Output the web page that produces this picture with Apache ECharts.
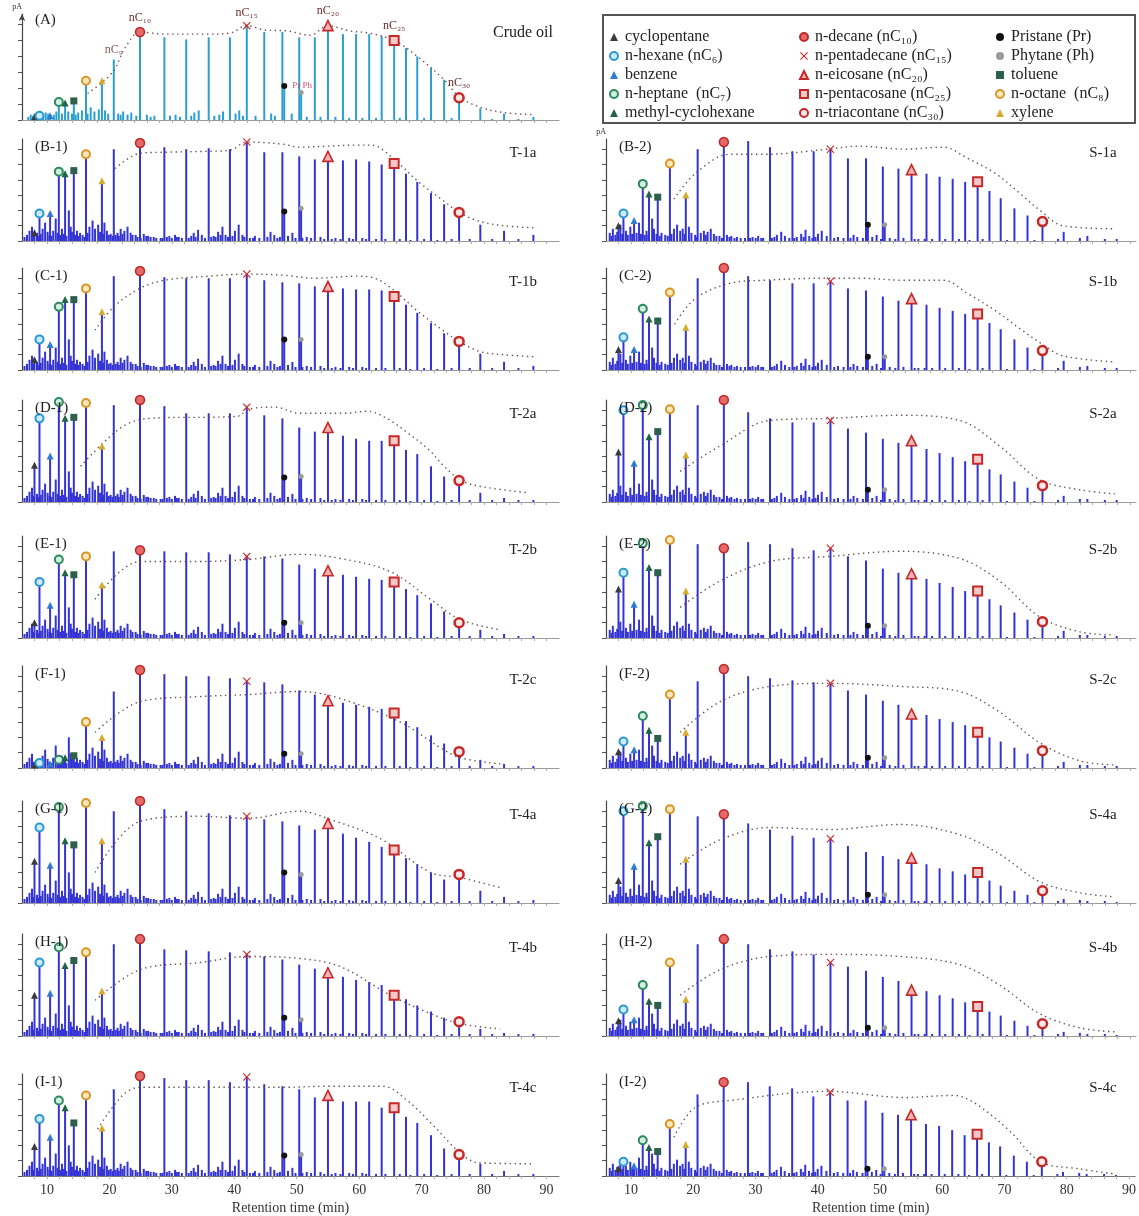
<!DOCTYPE html>
<html>
<head>
<meta charset="utf-8">
<script src="https://cdn.jsdelivr.net/npm/echarts@6/dist/echarts.min.js"></script>
<style>
  html, body { margin: 0; padding: 0; background: #ffffff; }
  #chart { width: 1139px; height: 1216px; }
</style>
</head>
<body>
<div id="chart"></div>
<script>
// ---------- retention times (min) ----------
// n-alkanes nC9 ... nC33
const alkaneTimes = [20.7, 24.9, 28.8, 32.3, 35.9, 39.3, 42.0, 44.8, 47.7, 50.4, 52.9, 55.0, 57.4,
                     59.5, 61.6, 63.6, 65.6, 67.5, 69.3, 71.5, 73.6, 76.0, 79.4, 83.2, 87.9];
// cyclopentane, n-hexane, benzene, n-heptane, methyl-cyclohexane, toluene, n-octane, xylene
const lightTimes = [8.0, 8.8, 10.5, 11.9, 12.9, 14.3, 16.25, 18.8];
// pristane, phytane
const isoprenoidTimes = [48.0, 50.7];

// ---------- peak heights (% of panel full scale) ----------
// n-alkanes nC9 ... nC33
const alkaneA  = [57, 83, 78, 76, 78, 78, 89, 83, 83, 78, 78, 89, 81, 81, 81, 79, 75, 68, 60, 49, 38, 21, 11, 6, 3];
const alkaneB1 = [90, 96, 92, 90, 91, 90, 97, 87, 87, 83, 80, 83, 79, 80, 78, 75, 76, 66, 58, 47, 36, 28, 16, 10, 6];
const alkaneC1 = [92, 97, 91, 90, 90, 90, 94, 88, 86, 85, 82, 82, 80, 79, 79, 78, 72, 64, 56, 46, 36, 28, 16, 8, 4];
const alkaneD1 = [95, 100, 94, 87, 87, 87, 93, 85, 82, 73, 69, 73, 65, 62, 60, 60, 60, 51, 47, 35, 25, 21, 9, 4, 2];
const alkaneE1 = [85, 86, 85, 84, 84, 82, 80, 80, 78, 72, 68, 66, 62, 60, 58, 57, 55, 48, 42, 34, 26, 15, 8, 4, 2];
const alkaneF1 = [75, 96, 92, 90, 90, 88, 85, 84, 82, 76, 72, 66, 64, 62, 60, 58, 54, 46, 40, 32, 24, 16, 8, 4, 2];
const alkaneG1 = [90, 100, 92, 90, 88, 86, 85, 82, 80, 76, 72, 78, 68, 64, 60, 55, 52, 44, 38, 30, 23, 28, 12, 6, 3];
const alkaneH1 = [90, 95, 85, 84, 83, 82, 80, 78, 75, 70, 66, 62, 58, 55, 53, 50, 40, 36, 30, 24, 18, 14, 7, 3, 2];
const alkaneI1 = [85, 98, 96, 94, 94, 92, 97, 90, 88, 85, 77, 79, 73, 73, 73, 67, 67, 58, 52, 40, 27, 21, 12, 5, 2];
const alkaneB2 = [90, 97, 98, 92, 88, 88, 90, 81, 81, 73, 71, 70, 66, 63, 61, 58, 58, 49, 42, 32, 25, 19, 9, 5, 2];
const alkaneC2 = [90, 100, 92, 88, 85, 85, 87, 80, 78, 72, 68, 70, 64, 61, 58, 55, 55, 46, 40, 30, 22, 19, 9, 4, 2];
const alkaneD2 = [95, 100, 88, 82, 78, 78, 80, 72, 68, 62, 58, 60, 52, 48, 44, 40, 42, 32, 27, 20, 14, 16, 6, 3, 2];
const alkaneE2 = [92, 88, 94, 92, 88, 86, 88, 80, 76, 68, 64, 63, 58, 54, 50, 46, 46, 38, 32, 25, 18, 16, 7, 3, 2];
const alkaneF2 = [85, 97, 90, 88, 86, 84, 83, 76, 72, 66, 62, 53, 52, 48, 45, 42, 35, 30, 26, 20, 14, 17, 6, 3, 2];
const alkaneG2 = [85, 87, 78, 72, 66, 64, 63, 56, 50, 46, 43, 44, 38, 34, 31, 28, 30, 22, 17, 12, 8, 12, 4, 2, 1];
const alkaneH2 = [90, 95, 90, 85, 83, 80, 72, 68, 64, 58, 54, 45, 44, 40, 37, 33, 29, 24, 20, 15, 10, 12, 4, 2, 1];
const alkaneI2 = [80, 92, 92, 88, 86, 78, 82, 74, 74, 62, 60, 60, 51, 49, 45, 40, 41, 33, 29, 20, 14, 14, 4, 2, 1];

// light compounds, same order as lightTimes
const lightA  = [3, 4, 4, 17, 16, 18, 37, 37];
const lightB1 = [8, 27, 27, 68, 66, 69, 85, 59];
const lightC1 = [10, 30, 25, 62, 69, 69, 80, 57];
const lightD1 = [36, 82, 45, 98, 82, 83, 97, 55];
const lightE1 = [15, 55, 32, 77, 64, 62, 80, 52];
const lightF1 = [3, 5, 4, 8, 10, 12, 45, 30];
const lightG1 = [41, 74, 37, 94, 61, 57, 98, 61];
const lightH1 = [40, 72, 42, 87, 69, 74, 82, 44];
const lightI1 = [29, 56, 38, 74, 67, 52, 79, 47];
const lightB2 = [15, 27, 20, 56, 46, 43, 76, 45];
const lightC2 = [20, 32, 20, 60, 50, 48, 76, 42];
const lightD2 = [49, 90, 38, 95, 64, 69, 91, 46];
const lightE2 = [48, 64, 33, 93, 69, 64, 96, 46];
const lightF2 = [16, 26, 18, 51, 37, 29, 72, 35];
const lightG2 = [22, 90, 36, 95, 59, 65, 92, 43];
const lightH2 = [15, 26, 16, 50, 34, 30, 72, 36];
const lightI2 = [7, 14, 10, 35, 28, 24, 51, 31];

// pristane, phytane
const isoA  = [32, 26];
const isoB1 = [29, 32];
const isoC1 = [30, 30];
const isoD1 = [24, 25];
const isoE1 = [15, 15];
const isoF1 = [14, 14];
const isoG1 = [30, 28];
const isoH1 = [18, 16];
const isoI1 = [20, 21];
const isoB2 = [16, 16];
const isoC2 = [13, 13];
const isoD2 = [12, 12];
const isoE2 = [12, 12];
const isoF2 = [10, 10];
const isoG2 = [8, 8];
const isoH2 = [8, 8];
const isoI2 = [7, 7];

// crude-oil n-alkane envelope overlaid on each trace: [time, height]
const envA  = [[16.5, 25], [20.5, 45], [22.5, 68], [24.9, 83], [28.8, 81], [35.9, 81], [39.3, 82], [42.0, 89], [44.8, 85], [48.5, 84], [52.2, 80], [55.0, 89], [58.5, 84], [61.6, 82], [65.6, 75], [69.3, 60], [73.6, 38], [76.0, 22], [79.4, 12], [83.2, 7], [87.9, 5]];
const envB1 = [[20.9, 71], [24.9, 86], [28.8, 87], [35.9, 88], [39.3, 89], [42.0, 97], [47.7, 95], [50.4, 92], [55.0, 93], [59.5, 94], [62.0, 94], [65.6, 80], [69.5, 58], [73.6, 39], [76.0, 28], [79.4, 19], [83.2, 15], [87.9, 13]];
const envC1 = [[17.7, 39], [20.7, 62], [24.9, 80], [28.8, 88], [35.9, 92], [42.0, 94], [47.7, 93], [52.9, 90], [59.5, 92], [62.5, 90], [65.6, 78], [69.3, 58], [73.6, 38], [76.0, 28], [79.4, 18], [83.2, 15], [87.9, 13]];
const envD1 = [[15.4, 35], [19.0, 58], [22.7, 76], [26.4, 82], [40.5, 84], [42.3, 91], [46.6, 93], [50.3, 87], [57.7, 87], [61.3, 89], [64.4, 82], [67.5, 69], [71.2, 51], [73.6, 35], [76.4, 21], [79.7, 15], [87.1, 9]];
const envE1 = [[17.7, 38], [24.9, 75], [34.0, 75], [42.2, 77], [50.5, 82], [57.0, 78], [65.0, 65], [71.4, 38], [76.2, 18], [82.6, 8]];
const envF1 = [[17.7, 35], [24.9, 65], [34.5, 70], [42.2, 72], [50.5, 75], [57.0, 68], [66.6, 45], [73.0, 20], [76.2, 10], [82.6, 4]];
const envG1 = [[17.7, 30], [24.9, 80], [34.5, 85], [42.2, 83], [50.5, 90], [55.3, 82], [63.4, 63], [71.4, 30], [76.2, 25], [82.6, 15]];
const envH1 = [[17.7, 35], [24.9, 65], [34.5, 72], [42.2, 78], [50.5, 76], [57.0, 68], [65.0, 40], [71.4, 22], [76.2, 12], [82.6, 7]];
const envI1 = [[18.1, 46], [22.1, 79], [24.9, 87], [35.9, 87], [47.7, 87], [55.2, 88], [63.8, 88], [67.5, 75], [71.8, 50], [76.1, 23], [79.1, 13], [87.7, 12]];
const envB2 = [[16.9, 41], [20.3, 66], [25.9, 85], [31.5, 85], [41.6, 90], [46.6, 93], [53.9, 90], [60.1, 92], [64.0, 81], [68.5, 66], [72.5, 46], [75.8, 29], [79.2, 15], [87.6, 12]];
const envC2 = [[17.0, 45], [20.3, 70], [25.9, 85], [31.5, 88], [41.6, 90], [46.6, 90], [53.9, 88], [60.1, 88], [64.0, 75], [68.5, 58], [72.5, 40], [75.8, 26], [79.2, 14], [87.6, 8]];
const envD2 = [[17.9, 30], [24.3, 55], [32.3, 80], [41.9, 82], [53.1, 85], [62.7, 80], [69.1, 55], [75.5, 22], [82.0, 12], [87.6, 8]];
const envE2 = [[17.9, 30], [24.3, 56], [32.3, 75], [41.9, 80], [53.1, 85], [62.7, 78], [69.1, 56], [75.5, 21], [82.0, 6], [87.6, 3]];
const envF2 = [[17.9, 35], [24.3, 65], [32.3, 80], [41.9, 83], [53.1, 80], [62.7, 75], [69.1, 55], [75.5, 25], [82.0, 7], [87.6, 3]];
const envG2 = [[17.9, 38], [24.3, 62], [32.3, 74], [41.9, 72], [53.1, 77], [62.7, 67], [69.1, 48], [75.5, 21], [82.0, 10], [87.6, 6]];
const envH2 = [[17.9, 40], [24.3, 65], [32.3, 78], [41.9, 80], [53.1, 78], [62.7, 70], [69.1, 50], [75.5, 22], [82.0, 8], [87.6, 4]];
const envI2 = [[16.9, 38], [20.3, 67], [25.9, 74], [41.6, 83], [53.9, 77], [61.8, 79], [65.1, 72], [70.7, 45], [75.8, 14], [82.0, 7], [87.6, 2]];

// minor, unlabelled peaks along the baseline: [time, height]
const minorA = [[7.0, 3], [7.4, 5], [7.8, 4], [8.2, 6], [8.6, 5], [9.4, 4], [9.8, 7], [10.2, 6], [11.1, 5], [11.5, 8], [12.4, 6], [13.4, 8], [14.0, 6], [14.6, 5], [15.0, 7], [15.6, 9], [16.5, 6], [17.0, 12], [17.6, 8], [18.3, 10], [19.3, 9], [19.8, 6], [21.4, 6], [21.8, 5], [22.2, 8], [22.9, 5], [23.5, 7], [24.3, 4], [26.0, 5], [26.6, 3], [27.2, 4], [29.7, 4], [30.6, 5], [31.3, 3], [33.1, 4], [33.6, 7], [34.3, 9], [36.8, 4], [37.6, 5], [38.2, 8], [40.2, 6], [40.8, 9], [41.4, 4], [43.4, 4], [45.9, 6], [46.5, 4], [49.2, 6], [51.6, 3], [53.8, 3], [56.2, 3], [58.4, 2], [60.5, 2], [62.7, 2], [66.5, 2], [70.4, 2], [74.8, 2], [81.3, 1], [85.5, 1]];
const minorT = [[6.4, 4], [6.8, 6], [7.2, 10], [7.6, 14], [7.9, 6], [8.4, 8], [8.7, 5], [9.0, 7], [9.3, 12], [9.7, 18], [10.1, 9], [10.4, 6], [10.7, 5], [11.0, 10], [11.4, 22], [11.7, 8], [12.1, 6], [12.4, 12], [12.7, 7], [13.1, 5], [13.5, 30], [13.8, 14], [14.0, 9], [14.5, 6], [14.8, 10], [15.0, 5], [15.3, 8], [15.7, 6], [16.0, 4], [16.5, 8], [16.8, 14], [17.3, 20], [17.7, 12], [18.2, 16], [18.5, 9], [19.0, 7], [19.2, 18], [19.6, 10], [19.9, 6], [20.2, 7], [20.5, 5], [21.0, 6], [21.3, 8], [21.5, 5], [21.8, 12], [22.1, 7], [22.4, 10], [22.9, 14], [23.4, 8], [23.7, 6], [24.2, 6], [24.5, 4], [25.0, 3], [25.5, 7], [25.9, 5], [26.2, 5], [26.6, 4], [27.1, 4], [27.5, 3], [28.2, 3], [28.5, 3], [29.2, 4], [29.6, 5], [30.0, 3], [30.5, 6], [30.8, 4], [31.1, 4], [31.6, 3], [32.7, 3], [33.1, 5], [33.5, 8], [33.8, 4], [34.2, 11], [34.8, 6], [35.3, 3], [36.3, 4], [36.7, 5], [37.0, 4], [37.4, 9], [37.8, 6], [38.1, 14], [38.6, 6], [39.0, 4], [39.7, 5], [40.1, 10], [40.7, 16], [41.3, 6], [41.6, 4], [42.5, 3], [43.0, 3], [43.3, 5], [44.0, 3], [45.3, 4], [45.8, 9], [46.4, 6], [46.9, 3], [47.3, 4], [48.6, 5], [49.3, 8], [49.8, 3], [50.9, 3], [51.6, 4], [52.3, 3], [53.8, 4], [54.4, 2], [55.6, 2], [56.2, 3], [57.0, 2], [58.4, 3], [59.0, 2], [60.5, 3], [61.1, 2], [62.7, 2], [64.2, 2], [66.5, 2], [68.2, 1], [70.4, 2], [72.5, 1], [74.8, 2], [77.7, 2], [81.3, 2], [85.5, 2]];
const minorS = [[6.6, 8], [6.9, 5], [7.1, 12], [7.5, 6], [7.8, 9], [8.3, 16], [8.6, 7], [9.2, 10], [9.5, 6], [9.9, 14], [10.2, 7], [10.9, 8], [11.3, 18], [11.6, 7], [12.2, 6], [12.5, 10], [12.8, 6], [13.4, 22], [13.7, 12], [14.1, 7], [14.6, 5], [14.9, 8], [15.5, 6], [15.9, 5], [16.5, 7], [16.9, 12], [17.4, 16], [17.9, 10], [18.3, 12], [18.6, 7], [19.3, 14], [19.7, 8], [20.3, 6], [20.6, 4], [21.2, 8], [21.7, 10], [22.0, 6], [22.3, 9], [22.8, 12], [23.3, 7], [23.7, 5], [24.2, 5], [24.6, 3], [25.4, 6], [25.8, 4], [26.1, 5], [26.6, 3], [27.0, 4], [27.6, 3], [28.3, 3], [29.1, 3], [29.5, 4], [30.0, 3], [30.4, 5], [30.9, 3], [31.2, 3], [32.6, 3], [33.0, 4], [33.4, 6], [34.1, 9], [34.7, 5], [35.4, 3], [36.2, 3], [36.6, 4], [37.3, 7], [37.7, 4], [38.0, 11], [38.6, 5], [39.1, 3], [39.6, 4], [40.0, 7], [40.6, 10], [41.4, 5], [42.6, 3], [43.2, 4], [44.1, 3], [45.2, 3], [45.7, 6], [46.3, 4], [47.2, 3], [48.7, 4], [49.4, 6], [50.1, 2], [51.5, 3], [52.4, 2], [53.7, 3], [55.5, 2], [56.1, 2], [57.1, 2], [58.3, 2], [60.4, 2], [62.6, 2], [64.3, 1], [66.4, 2], [70.3, 1], [74.7, 1], [78.5, 2], [82.0, 3], [86.0, 2]];

const xTickLabels = [10, 20, 30, 40, 50, 60, 70, 80, 90];

// ---------- panels ----------
const panels = [
  { id: '(A)',   sample: 'Crude oil', col: 0, row: -1, alk: alkaneA,  light: lightA,  iso: isoA,  env: envA,  minor: minorA },
  { id: '(B-1)', sample: 'T-1a', col: 0, row: 0, alk: alkaneB1, light: lightB1, iso: isoB1, env: envB1, minor: minorT },
  { id: '(C-1)', sample: 'T-1b', col: 0, row: 1, alk: alkaneC1, light: lightC1, iso: isoC1, env: envC1, minor: minorT },
  { id: '(D-1)', sample: 'T-2a', col: 0, row: 2, alk: alkaneD1, light: lightD1, iso: isoD1, env: envD1, minor: minorT },
  { id: '(E-1)', sample: 'T-2b', col: 0, row: 3, alk: alkaneE1, light: lightE1, iso: isoE1, env: envE1, minor: minorT },
  { id: '(F-1)', sample: 'T-2c', col: 0, row: 4, alk: alkaneF1, light: lightF1, iso: isoF1, env: envF1, minor: minorT },
  { id: '(G-1)', sample: 'T-4a', col: 0, row: 5, alk: alkaneG1, light: lightG1, iso: isoG1, env: envG1, minor: minorT },
  { id: '(H-1)', sample: 'T-4b', col: 0, row: 6, alk: alkaneH1, light: lightH1, iso: isoH1, env: envH1, minor: minorT },
  { id: '(I-1)', sample: 'T-4c', col: 0, row: 7, alk: alkaneI1, light: lightI1, iso: isoI1, env: envI1, minor: minorT },
  { id: '(B-2)', sample: 'S-1a', col: 1, row: 0, alk: alkaneB2, light: lightB2, iso: isoB2, env: envB2, minor: minorS },
  { id: '(C-2)', sample: 'S-1b', col: 1, row: 1, alk: alkaneC2, light: lightC2, iso: isoC2, env: envC2, minor: minorS },
  { id: '(D-2)', sample: 'S-2a', col: 1, row: 2, alk: alkaneD2, light: lightD2, iso: isoD2, env: envD2, minor: minorS },
  { id: '(E-2)', sample: 'S-2b', col: 1, row: 3, alk: alkaneE2, light: lightE2, iso: isoE2, env: envE2, minor: minorS },
  { id: '(F-2)', sample: 'S-2c', col: 1, row: 4, alk: alkaneF2, light: lightF2, iso: isoF2, env: envF2, minor: minorS },
  { id: '(G-2)', sample: 'S-4a', col: 1, row: 5, alk: alkaneG2, light: lightG2, iso: isoG2, env: envG2, minor: minorS },
  { id: '(H-2)', sample: 'S-4b', col: 1, row: 6, alk: alkaneH2, light: lightH2, iso: isoH2, env: envH2, minor: minorS },
  { id: '(I-2)', sample: 'S-4c', col: 1, row: 7, alk: alkaneI2, light: lightI2, iso: isoI2, env: envI2, minor: minorS }
];

// ---------- layout ----------
const SERIF = "'Liberation Serif', 'DejaVu Serif', serif";
const rowBaseline = [241, 370, 502, 638, 768, 903, 1036, 1176];
const panelHeight = 102;
const colLeft = [22, 606];
const colWidth = [537, 530];
const colMax = [92, 91];

function rectOf(p) {
  if (p.row < 0) return { left: 22, top: 14, width: 537, height: 106 };
  return { left: colLeft[p.col], top: rowBaseline[p.row] - panelHeight, width: colWidth[p.col], height: panelHeight };
}

// compound markers (legend order: three columns of five)
const xMark = 'path://M0,1L1,0L5,4L9,0L10,1L6,5L10,9L9,10L5,6L1,10L0,9L4,5Z';
const markers = [
  { name: 'cyclopentane',         from: 'light', k: 0,  symbol: 'triangle', size: 7,  color: '#3b3b3b' },
  { name: 'n-hexane (nC₆)',       from: 'light', k: 1,  symbol: 'circle',   size: 8,  color: '#cdeaf8', border: '#2a98d4', bw: 2 },
  { name: 'benzene',              from: 'light', k: 2,  symbol: 'triangle', size: 7,  color: '#2f7dd2' },
  { name: 'n-heptane  (nC₇)',     from: 'light', k: 3,  symbol: 'circle',   size: 8,  color: '#d3efe2', border: '#2b8a5e', bw: 2 },
  { name: 'methyl-cyclohexane',   from: 'light', k: 4,  symbol: 'triangle', size: 7,  color: '#1f6545' },
  { name: 'n-decane (nC₁₀)',      from: 'alk',   k: 1,  symbol: 'circle',   size: 9,  color: '#e46a6a', border: '#c02828', bw: 1.5, tag: 'nC₁₀' },
  { name: 'n-pentadecane (nC₁₅)', from: 'alk',   k: 6,  symbol: xMark,      size: 8,  color: '#d02a2a', tag: 'nC₁₅' },
  { name: 'n-eicosane (nC₂₀)',    from: 'alk',   k: 11, symbol: 'triangle', size: 10, color: '#f2b5b5', border: '#c62828', bw: 1.6, tag: 'nC₂₀' },
  { name: 'n-pentacosane (nC₂₅)', from: 'alk',   k: 16, symbol: 'rect',     size: 9,  color: '#f6c9c9', border: '#c62828', bw: 2, tag: 'nC₂₅' },
  { name: 'n-triacontane (nC₃₀)', from: 'alk',   k: 21, symbol: 'circle',   size: 9,  color: '#fde8e8', border: '#c62828', bw: 2.5, tag: 'nC₃₀' },
  { name: 'Pristane (Pr)',        from: 'iso',   k: 0,  symbol: 'circle',   size: 6,  color: '#111111' },
  { name: 'Phytane (Ph)',         from: 'iso',   k: 1,  symbol: 'circle',   size: 5,  color: '#9a9a9a' },
  { name: 'toluene',              from: 'light', k: 5,  symbol: 'rect',     size: 7,  color: '#2d5f4a' },
  { name: 'n-octane  (nC₈)',      from: 'light', k: 6,  symbol: 'circle',   size: 8,  color: '#fbe7b8', border: '#d8962a', bw: 2 },
  { name: 'xylene',               from: 'light', k: 7,  symbol: 'triangle', size: 7,  color: '#d7ac2c' }
];
const timeSource = { light: lightTimes, alk: alkaneTimes, iso: isoprenoidTimes };

const grids = [], xAxes = [], yAxes = [], series = [], graphics = [];

panels.forEach((p, i) => {
  const r = rectOf(p);
  const isBottom = p.row === 7;
  const isCrude = p.row < 0;
  grids.push(Object.assign({ containLabel: false }, r));

  xAxes.push({
    type: 'value', gridIndex: i, min: 6, max: colMax[p.col],
    axisLine: { show: true, lineStyle: { color: isBottom ? '#777' : '#9a9a9a', width: 1 } },
    axisTick: { show: true, length: 3, inside: false, lineStyle: { color: '#aaa' },
                customValues: [8, 10, 12, 14, 16, 18, 20, 22, 24, 26, 28, 30, 32, 34, 36, 38, 40, 42, 44, 46, 48, 50, 52, 54, 56, 58, 60, 62, 64, 66, 68, 70, 72, 74, 76, 78, 80, 82, 84, 86, 88, 90] },
    axisLabel: isBottom
      ? { show: true, customValues: xTickLabels, fontFamily: SERIF, fontSize: 14, color: '#333', margin: 7 }
      : { show: false },
    splitLine: { show: false },
    name: isBottom ? 'Retention time (min)' : '',
    nameLocation: 'middle', nameGap: 25,
    nameTextStyle: { fontFamily: SERIF, fontSize: 14, color: '#333' }
  });

  const showPA = isCrude || p.id === '(B-2)';
  yAxes.push({
    type: 'value', gridIndex: i, min: 0, max: 100,
    axisLine: { show: true, lineStyle: { color: '#444', width: 1.2 },
                symbol: isCrude ? ['none', 'arrow'] : ['none', 'none'], symbolSize: [5, 7] },
    axisTick: { show: true, length: 4, lineStyle: { color: '#555' }, customValues: [0, 15, 30, 45, 60, 75, 90] },
    axisLabel: { show: false },
    splitLine: { show: false },
    name: showPA ? 'pA' : '', nameLocation: 'end', nameGap: 3,
    nameTextStyle: { fontFamily: SERIF, fontSize: 8, color: '#333', align: 'right', padding: [0, 0, 0, 0] }
  });

  // every peak of the trace as a thin spike
  const peakData = []
    .concat(p.alk.map((h, k) => [alkaneTimes[k], h]))
    .concat(p.light.map((h, k) => [lightTimes[k], h]))
    .concat(p.iso.map((h, k) => [isoprenoidTimes[k], h]))
    .concat(p.minor);
  series.push({
    type: 'bar', name: 'trace', xAxisIndex: i, yAxisIndex: i, data: peakData,
    barWidth: 2, z: 2, silent: true,
    itemStyle: { color: isCrude ? '#2c9fd2' : '#3434d6' }
  });

  // crude-oil reference envelope
  series.push({
    type: 'line', name: 'envelope', xAxisIndex: i, yAxisIndex: i, data: p.env,
    smooth: 0.35, showSymbol: false, z: 3, silent: true,
    lineStyle: { color: '#6a4e4e', width: 1.4, type: [1.4, 3.6] }
  });

  // identified compounds
  markers.forEach(m => {
    const t = timeSource[m.from][m.k];
    const h = p[m.from][m.k];
    const item = { value: [t, h] };
    if (isCrude && m.tag) {
      item.label = { show: true, formatter: m.tag, position: 'top', distance: 3,
                     fontFamily: SERIF, fontSize: 12, color: '#6b2a2a' };
    }
    if (isCrude && m.name === 'Pristane (Pr)') {
      item.label = { show: true, formatter: 'Pr Ph', position: 'right', distance: 5,
                     fontFamily: SERIF, fontSize: 9, color: '#d0507a' };
    }
    series.push({
      type: 'scatter', name: m.name, xAxisIndex: i, yAxisIndex: i, data: [item],
      symbol: m.symbol, symbolSize: m.size, z: 5, silent: true,
      itemStyle: { color: m.color, borderColor: m.border || m.color, borderWidth: m.bw || 0, opacity: 1 }
    });
  });

  if (isCrude) {
    // nC9 tag above its peak
    series.push({
      type: 'scatter', name: 'nC9 tag', xAxisIndex: i, yAxisIndex: i,
      data: [{ value: [alkaneTimes[0], p.alk[0]],
               label: { show: true, formatter: 'nC₉', position: 'top', distance: 4, fontFamily: SERIF, fontSize: 12, color: '#6b2a2a' } }],
      symbolSize: 0, silent: true, z: 5
    });
  }

  // panel tag and sample name
  graphics.push({
    type: 'text', left: r.left + 13, top: r.top + (isCrude ? -1 : 1), z: 10,
    style: { text: p.id, font: '15px ' + SERIF, fill: '#222' }
  });
  const cx = p.col === 0 ? 523 : 1103;
  graphics.push({
    type: 'text', x: cx, y: r.top + (isCrude ? 19 : 14), z: 10,
    style: { text: p.sample, font: (isCrude ? '16px ' : '15px ') + SERIF, fill: '#222',
             textAlign: 'center', textVerticalAlign: 'middle' }
  });
});

// legend frame
graphics.push({
  type: 'rect', shape: { x: 603, y: 15, width: 532, height: 108 }, z: 1,
  style: { fill: 'none', stroke: '#555', lineWidth: 2 }
});

function legendColumn(names, left) {
  return {
    data: names, left: left, top: 24, orient: 'vertical', itemGap: 3,
    itemWidth: 8, itemHeight: 8, selectedMode: false,
    textStyle: { fontFamily: SERIF, fontSize: 16, color: '#222', padding: [0, 0, 0, 2] }
  };
}

const option = {
  backgroundColor: '#ffffff',
  animation: false,
  grid: grids,
  xAxis: xAxes,
  yAxis: yAxes,
  series: series,
  legend: [
    legendColumn(markers.slice(0, 5).map(m => m.name), 604),
    legendColumn(markers.slice(5, 10).map(m => m.name), 794),
    legendColumn(markers.slice(10, 15).map(m => m.name), 990)
  ],
  graphic: graphics
};

const chart = echarts.init(document.getElementById('chart'), null, { renderer: 'canvas' });
chart.setOption(option);
</script>
</body>
</html>
